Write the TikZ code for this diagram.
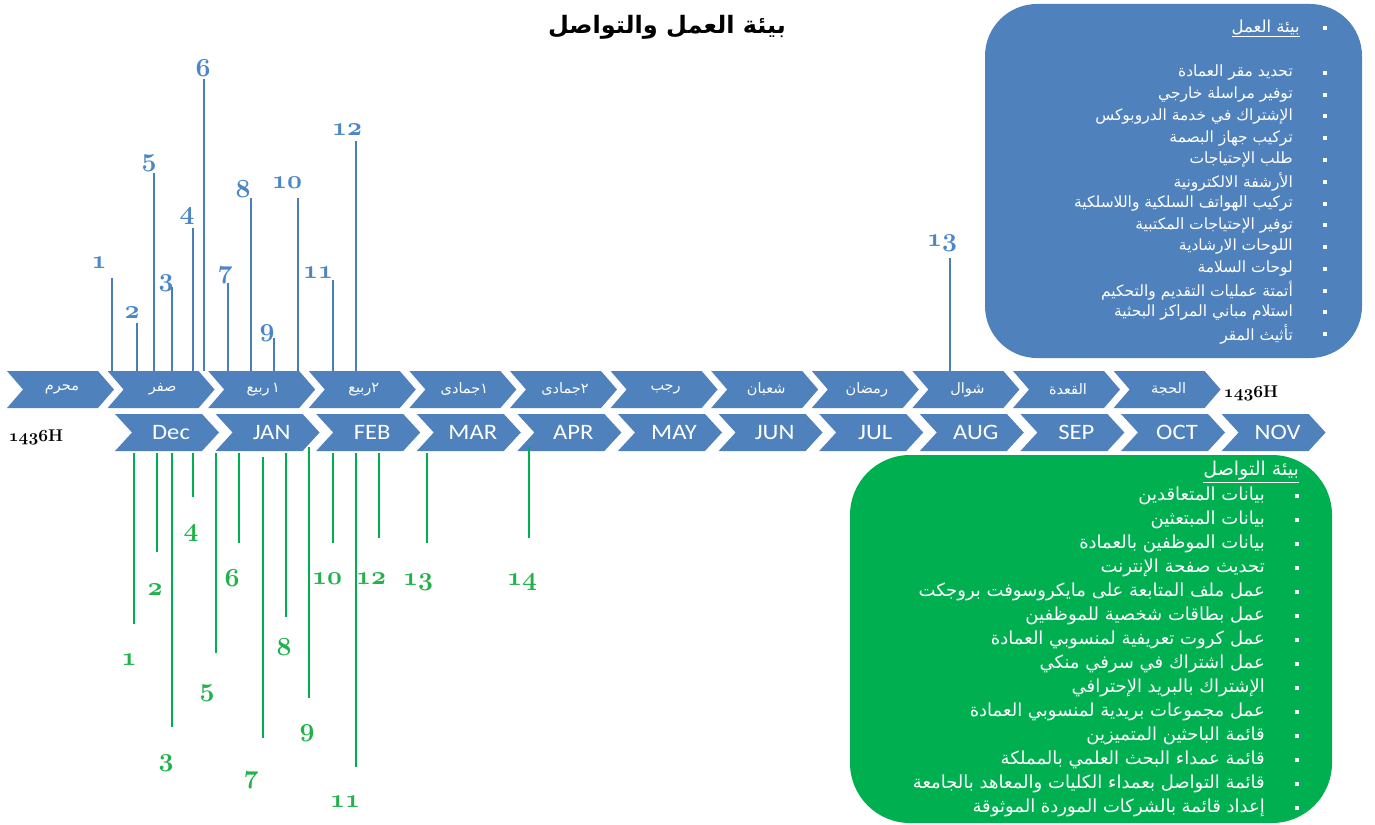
\RequirePackage{fix-cm}
\documentclass[tikz,border=0pt]{standalone}
\usepackage{graphicx}
\usepackage{fontspec}
\newfontfamily\arabicfont[Script=Arabic]{DejaVu Sans}
\newfontfamily\monthfont{Carlito}
\TeXXeTstate=1
\newcommand{\ar}[1]{{\arabicfont\beginR #1\endR}}
\newcommand{\osnum}[1]{{\usefont{OML}{cmm}{b}{it}#1}}
\newcommand{\yearlabel}{{\fontsize{17}{17}\usefont{OML}{cmm}{b}{it}1436}{\fontsize{17}{17}\selectfont\bfseries H}}
\newcommand{\wide}[1]{\scalebox{1.12}[1]{#1}}
\definecolor{chevblue}{HTML}{4F81BD}
\definecolor{lineblue}{HTML}{4A7EBB}
\definecolor{numblue}{HTML}{4A86C8}
\definecolor{boxgreen}{HTML}{00B050}
\definecolor{numgreen}{HTML}{22B24C}
\begin{document}
\begin{tikzpicture}[x=1pt,y=-1pt,
  hijri/.style={text=white,font=\fontsize{14.5}{14.5}\selectfont,inner sep=0pt},
  greg/.style={text=white,font=\monthfont\fontsize{22}{22}\selectfont,inner sep=0pt},
  bluenum/.style={text=numblue,font=\fontsize{26}{26}\selectfont,inner sep=0pt},
  greennum/.style={text=numgreen,font=\fontsize{26}{26}\selectfont,inner sep=0pt},
  blueline/.style={draw=lineblue,line width=1.8pt},
  greenline/.style={draw=boxgreen,line width=1.8pt},
  blueitem/.style={anchor=east,text=white,inner sep=0pt,font=\fontsize{15.5}{15.5}\selectfont},
  greenitem/.style={anchor=east,text=white,inner sep=0pt,font=\fontsize{18}{18}\selectfont},
  bullet/.style={fill=white}
]
\useasboundingbox (0,0) rectangle (1375,824);

% title
\node[inner sep=0pt,font=\fontsize{24}{24}\selectfont] (title) at (667,27) {\ar{\bfseries بيئة العمل والتواصل}};

% boxes
\node[fill=chevblue,rounded corners=52pt,minimum width=377pt,minimum height=354pt,inner sep=0pt] (workbox) at (1173.5,181) {};
\node[fill=boxgreen,rounded corners=60pt,minimum width=482pt,minimum height=368pt,inner sep=0pt] (commbox) at (1091,639) {};

% Hijri row
\foreach \lab [count=\i from 0] in {\ar{محرم},\ar{صفر},{\hbox{\ar{ربيع}}\,\hbox{\ar{١}}},{\hbox{\ar{ربيع}}\hbox{\ar{٢}}},{\hbox{\ar{جمادى}}\hbox{\ar{١}}},{\hbox{\ar{جمادى}}\hbox{\ar{٢}}},\ar{رجب},\ar{شعبان},\ar{رمضان},\ar{شوال},\ar{القعدة},\ar{الحجة}} {
  \pgfmathsetmacro\xo{7+\i*100.6}
  \fill[chevblue] (\xo,371) -- ++(91,0) -- ++(16,18.5) -- ++(-16,18.5) -- ++(-91,0) -- ++(16,-18.5) -- cycle;
  \node[hijri] (h\i) at (\xo+55,389.5) {\lab};
}
% Gregorian row
\foreach \lab [count=\i from 0] in {Dec,JAN,FEB,MAR,APR,MAY,JUN,JUL,AUG,SEP,OCT,NOV} {
  \pgfmathsetmacro\xo{115+\i*100.6}
  \fill[chevblue] (\xo,414) -- ++(87,0) -- ++(17,18.5) -- ++(-17,18.5) -- ++(-87,0) -- ++(17,-18.5) -- cycle;
  \node[greg] (g\i) at (\xo+56,432.5) {\wide{\lab}};
}
\node[inner sep=0pt] (yearL) at (36,437) {\yearlabel};
\node[inner sep=0pt] (yearR) at (1251,393) {\yearlabel};

% blue leaders
\foreach \x/\t/\lx/\ly/\n in {112/278/99/263/1,137/323/132/313/2,154/173/149/163/5,172/287/166/283/3,193/228/187/216/4,204/79/203/68/6,228/283/225/275/7,251/198/243/189/8,274/338/267/333/9,298/198/287/183/10,333/280/318/273/11,356/141/347/130/12,950/258/942/243/13} {
  \coordinate (bb\n) at (\x,371);
  \coordinate (bt\n) at (\x,\t);
  \draw[blueline] (bb\n) -- (bt\n);
  \node[bluenum] (bn\n) at (\lx,\ly) {\osnum{\n}};
}
% green leaders
\foreach \x/\b/\lx/\ly/\n/\t in {134/624/129/660/1/453,157/552/155/590/2/453,172/727/166/763/3/453,193/497/191/533/4/453,216/653/207/693/5/453,239/543/232/578/6/453,263/738/251/780/7/457,286/617/284/647/8/453,309/698/307/733/9/447,333/543/327/579/10/453,356/767/345/802/11/453,379/538/371/579/12/453,427/543/418/582/13/453,529/538/522/582/14/447} {
  \coordinate (gt\n) at (\x,\t);
  \coordinate (gb\n) at (\x,\b);
  \draw[greenline] (gt\n) -- (gb\n);
  \node[greennum] (gn\n) at (\lx,\ly) {\osnum{\n}};
}

% work environment list
\node[blueitem,font=\fontsize{16.5}{16.5}\selectfont] (wh) at (1300,28) {\underline{\ar{بيئة العمل}}};
\fill[bullet] (1323,26) rectangle (1327,30);
\foreach \txt [count=\i from 0] in {تحديد مقر العمادة,توفير مراسلة خارجي,الإشتراك في خدمة الدروبوكس,تركيب جهاز البصمة,طلب الإحتياجات,الأرشفة الالكترونية,تركيب الهواتف السلكية واللاسلكية,توفير الإحتياجات المكتبية,اللوحات الارشادية,لوحات السلامة,أتمتة عمليات التقديم والتحكيم,استلام مباني المراكز البحثية,تأثيث المقر} {
  \pgfmathsetmacro\yy{73+\i*21.75}
  \node[blueitem] (w\i) at (1293,\yy) {\ar{\txt}};
  \fill[bullet] (1323,\yy-2) rectangle (1327,\yy+2);
}

% communication list
\node[greenitem,font=\fontsize{19}{19}\selectfont] (ch) at (1299,472) {\underline{\ar{بيئة التواصل}}};
\foreach \txt [count=\i from 0] in {بيانات المتعاقدين,بيانات المبتعثين,بيانات الموظفين بالعمادة,تحديث صفحة الإنترنت,عمل ملف المتابعة على مايكروسوفت بروجكت,عمل بطاقات شخصية للموظفين,عمل كروت تعريفية لمنسوبي العمادة,عمل اشتراك في سرفي منكي,الإشتراك بالبريد الإحترافي,عمل مجموعات بريدية لمنسوبي العمادة,قائمة الباحثين المتميزين,قائمة عمداء البحث العلمي بالمملكة,قائمة التواصل بعمداء الكليات والمعاهد بالجامعة,إعداد قائمة بالشركات الموردة الموثوقة} {
  \pgfmathsetmacro\yy{496+\i*24}
  \node[greenitem] (c\i) at (1265,\yy) {\ar{\txt}};
  \fill[bullet] (1295,\yy-2) rectangle (1299,\yy+2);
}
\end{tikzpicture}
\end{document}
